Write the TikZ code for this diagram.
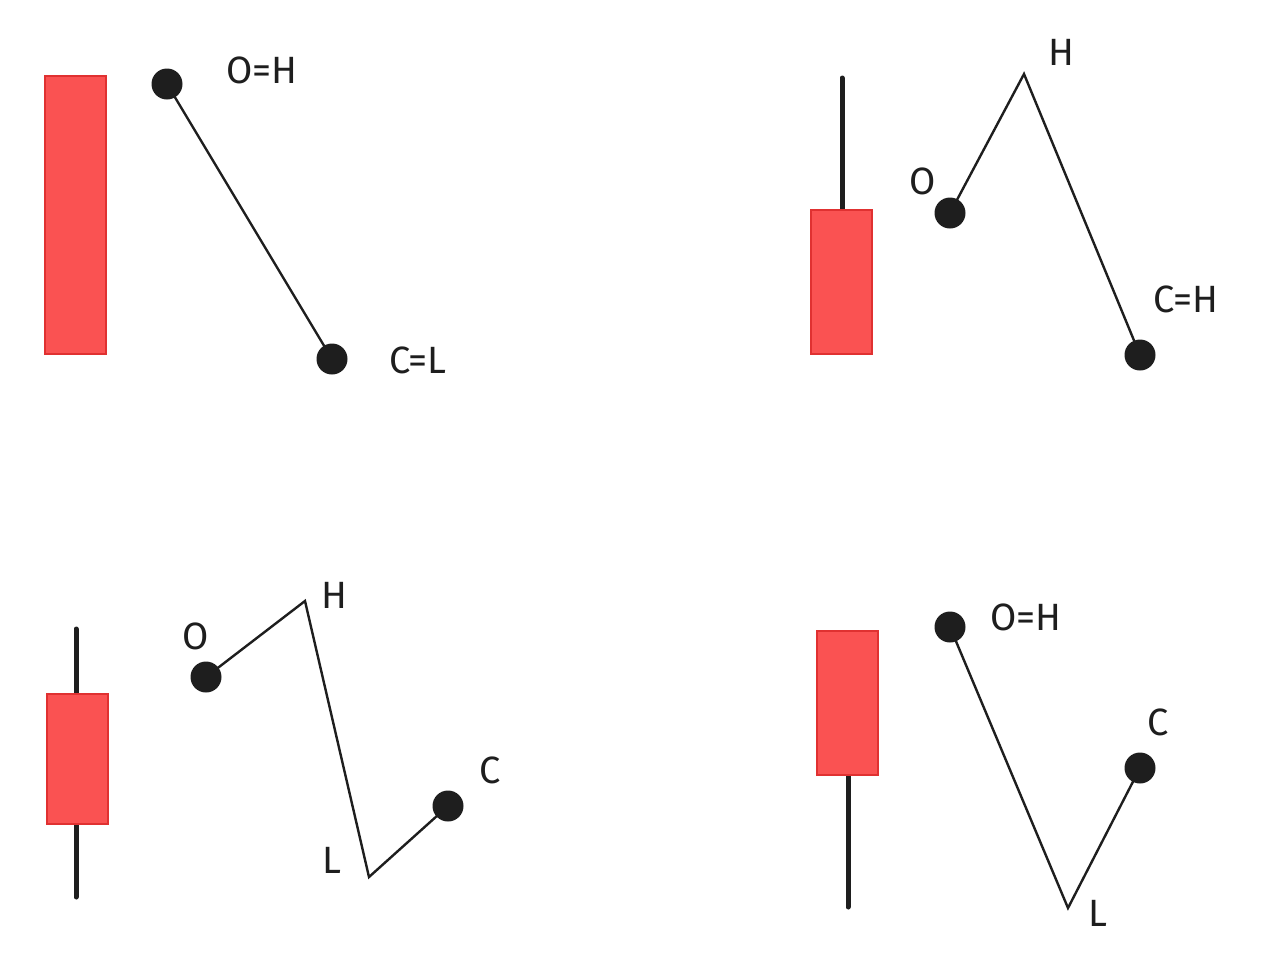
\documentclass[tikz,border=0pt]{standalone}
\usepackage{fontspec}
\setmainfont{Fira Sans}
\usepackage{tikz}
\definecolor{barfill}{HTML}{FA5252}
\definecolor{barline}{HTML}{E03131}
\definecolor{ink}{HTML}{1E1E1E}

\begin{document}
\begin{tikzpicture}[x=1pt,y=-1pt,
    bar/.style={draw=barline,fill=barfill,line width=2pt,minimum width=61pt,inner sep=0pt},
    wick/.style={draw=ink,line width=5pt,line cap=round},
    dot/.style={circle,fill=ink,minimum size=31pt,inner sep=0pt},
    path/.style={draw=ink,line width=2.4pt},
    lbl/.style={text=ink,font=\fontsize{38}{42}\selectfont,inner sep=0pt},
  ]
    \useasboundingbox (0,0) rectangle (1264,967);
    % top left
    \node[bar,minimum height=278pt] (bar1) at (75.5,215) {};
    \node[dot] (o1) at (167,84) {};
    \node[dot] (c1) at (332,359) {};
    \draw[path] (o1.center) -- (c1.center);
    \node[lbl] (o1l) at (262,70) {O=H};
    \node[lbl] (c1l) at (418,360) {C=L};
    % top right
    \coordinate (w2) at (842,78);
    \draw[wick] (w2) -- (842,210);
    \node[bar,minimum height=144pt] (bar2) at (841.5,282) {};
    \node[dot] (o2) at (950,213) {};
    \coordinate (h2) at (1024,74);
    \node[dot] (c2) at (1140,355) {};
    \draw[path,line join=miter] (o2.center) -- (h2) -- (c2.center);
    \node[lbl] (h2l) at (1061,52) {H};
    \node[lbl] (o2l) at (923,181) {O};
    \node[lbl] (c2l) at (1186,299) {C=H};
    % bottom left
    \coordinate (w3a) at (76,629);
    \coordinate (w3b) at (76,897);
    \draw[wick] (w3a) -- (w3b);
    \node[bar,minimum height=130pt] (bar3) at (77.5,759) {};
    \node[dot] (o3) at (206,677) {};
    \coordinate (h3) at (305,601);
    \coordinate (l3) at (369,877);
    \node[dot] (c3) at (448,806) {};
    \draw[path,line join=miter] (o3.center) -- (h3) -- (l3) -- (c3.center);
    \node[lbl] (o3l) at (196,636) {O};
    \node[lbl] (h3l) at (334,595) {H};
    \node[lbl] (l3l) at (332,860) {L};
    \node[lbl] (c3l) at (490,770) {C};
    % bottom right
    \coordinate (w4) at (848,907);
    \draw[wick] (w4) -- (848,775);
    \node[bar,minimum height=144pt] (bar4) at (847.5,703) {};
    \node[dot] (o4) at (950,627) {};
    \coordinate (l4) at (1068,908);
    \node[dot] (c4) at (1140,768) {};
    \draw[path,line join=miter] (o4.center) -- (l4) -- (c4.center);
    \node[lbl] (o4l) at (1026,617) {O=H};
    \node[lbl] (c4l) at (1158,722) {C};
    \node[lbl] (l4l) at (1098,913) {L};
\end{tikzpicture}
\end{document}
